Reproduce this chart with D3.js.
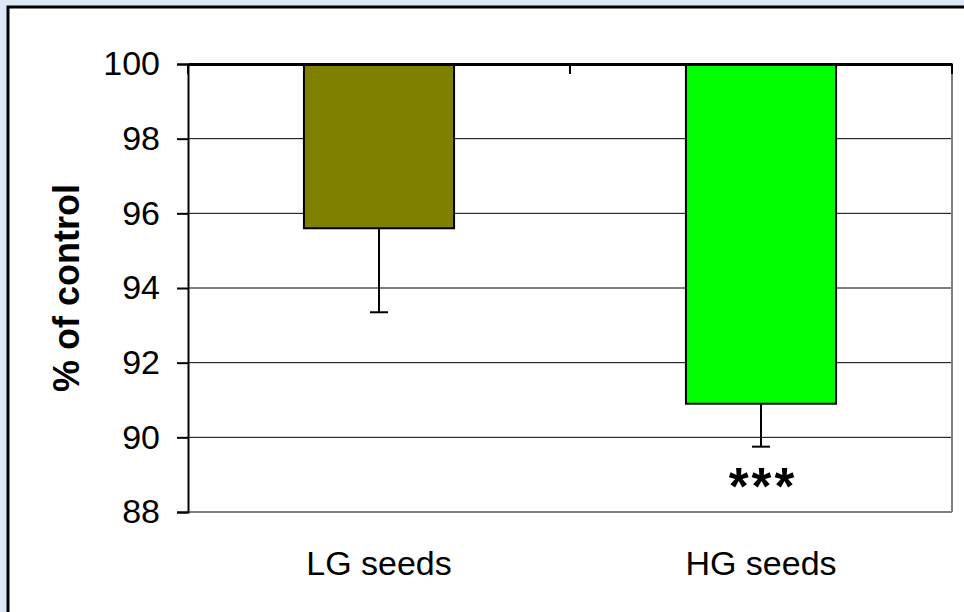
<!DOCTYPE html>
<html>
<head>
<meta charset="utf-8">
<script src="https://cdn.jsdelivr.net/npm/d3@7"></script>
<style>
    body { margin: 0; padding: 0; overflow: hidden; }
    text { font-family: Arial, "Liberation Sans", sans-serif; }
</style>
</head>
<body>
<script>
var categories = ["LG seeds", "HG seeds"];
var values = [95.6, 90.9];
var errors = [2.25, 1.15];
var colors = ["#808000", "#00ff00"];
var yTicks = [88, 90, 92, 94, 96, 98, 100];
var marks = ["", "***"];

var W = 964, H = 612;
var svg = d3.select("body")
    .append("svg")
    .attr("width", W)
    .attr("height", H);

// bluish backdrop behind the white frame
svg.append("rect")
    .attr("x", 0)
    .attr("y", 0)
    .attr("width", W)
    .attr("height", H)
    .attr("fill", "#dce8f6");
svg.append("rect")
    .attr("x", 8)
    .attr("y", 7)
    .attr("width", W + 20)
    .attr("height", H + 20)
    .attr("fill", "#ffffff")
    .attr("stroke", "#000000")
    .attr("stroke-width", 3);

var plot = { left: 188, top: 64, right: 952, bottom: 512 };

var y = d3.scaleLinear()
    .domain([88, 100])
    .range([plot.bottom, plot.top]);

var x = d3.scaleBand()
    .domain(categories)
    .range([plot.left, plot.right])
    .paddingInner(0.607)
    .paddingOuter(0.3035);

var g = svg.append("g");

// gridlines
g.selectAll("line.grid")
    .data(yTicks.filter(function (d) { return d > 88 && d < 100; }))
    .enter()
    .append("line")
    .attr("class", "grid")
    .attr("x1", plot.left)
    .attr("x2", plot.right)
    .attr("y1", function (d) { return y(d); })
    .attr("y2", function (d) { return y(d); })
    .attr("stroke", "#000000")
    .attr("stroke-width", 1);

// plot area border (right and bottom grey)
g.append("line")
    .attr("x1", plot.right)
    .attr("y1", plot.top)
    .attr("x2", plot.right)
    .attr("y2", plot.bottom)
    .attr("stroke", "#808080")
    .attr("stroke-width", 2);
g.append("line")
    .attr("x1", plot.left)
    .attr("y1", plot.bottom)
    .attr("x2", plot.right)
    .attr("y2", plot.bottom)
    .attr("stroke", "#808080")
    .attr("stroke-width", 2);

// bars hang down from 100
g.selectAll("rect.bar")
    .data(values)
    .enter()
    .append("rect")
    .attr("class", "bar")
    .attr("x", function (d, i) { return x(categories[i]); })
    .attr("y", y(100))
    .attr("width", x.bandwidth())
    .attr("height", function (d) { return y(d) - y(100); })
    .attr("fill", function (d, i) { return colors[i]; })
    .attr("stroke", "#000000")
    .attr("stroke-width", 2);

// error bars
values.forEach(function (v, i) {
    var cx = x(categories[i]) + x.bandwidth() / 2;
    g.append("line")
        .attr("x1", cx)
        .attr("y1", y(v))
        .attr("x2", cx)
        .attr("y2", y(v - errors[i]))
        .attr("stroke", "#000000")
        .attr("stroke-width", 2);
    g.append("line")
        .attr("x1", cx - 9)
        .attr("y1", y(v - errors[i]))
        .attr("x2", cx + 9)
        .attr("y2", y(v - errors[i]))
        .attr("stroke", "#000000")
        .attr("stroke-width", 2);
    if (marks[i]) {
        g.append("text")
            .attr("x", cx + 2)
            .attr("y", y(v - errors[i]) + 57)
            .attr("text-anchor", "middle")
            .attr("font-size", 51)
            .attr("font-weight", "bold")
            .attr("letter-spacing", 3)
            .text(marks[i]);
    }
});

// y axis
var yAxis = d3.axisLeft(y)
    .tickValues(yTicks)
    .tickSize(11)
    .tickPadding(17)
    .tickFormat(d3.format("d"));
var ya = g.append("g")
    .attr("transform", "translate(" + plot.left + ",0)")
    .call(yAxis);
ya.select(".domain").attr("stroke", "#000000").attr("stroke-width", 2);
ya.selectAll(".tick line").attr("stroke", "#000000").attr("stroke-width", 2);
ya.selectAll(".tick text")
    .attr("font-size", 34)
    .attr("font-family", "Arial, 'Liberation Sans', sans-serif")
    .attr("fill", "#000000");

// category axis sits at 100, labels below the plot
var xAxis = d3.axisBottom(x).tickSize(0).tickFormat("");
var xa = g.append("g")
    .attr("transform", "translate(0," + plot.top + ")")
    .call(xAxis);
xa.select(".domain").attr("stroke", "#000000").attr("stroke-width", 3);
var divs = [plot.left, (plot.left + plot.right) / 2, plot.right];
xa.selectAll("line.div")
    .data(divs)
    .enter()
    .append("line")
    .attr("class", "div")
    .attr("x1", function (d) { return d; })
    .attr("x2", function (d) { return d; })
    .attr("y1", 0)
    .attr("y2", 10)
    .attr("stroke", "#000000")
    .attr("stroke-width", 2);

g.selectAll("text.cat")
    .data(categories)
    .enter()
    .append("text")
    .attr("class", "cat")
    .attr("x", function (d) { return x(d) + x.bandwidth() / 2; })
    .attr("y", 575)
    .attr("text-anchor", "middle")
    .attr("font-size", 34)
    .text(function (d) { return d; });

// y title
svg.append("text")
    .attr("transform", "translate(79," + ((plot.top + plot.bottom) / 2) + ") rotate(-90)")
    .attr("text-anchor", "middle")
    .attr("font-size", 36)
    .attr("font-weight", "bold")
    .text("% of control");
</script>
</body>
</html>
